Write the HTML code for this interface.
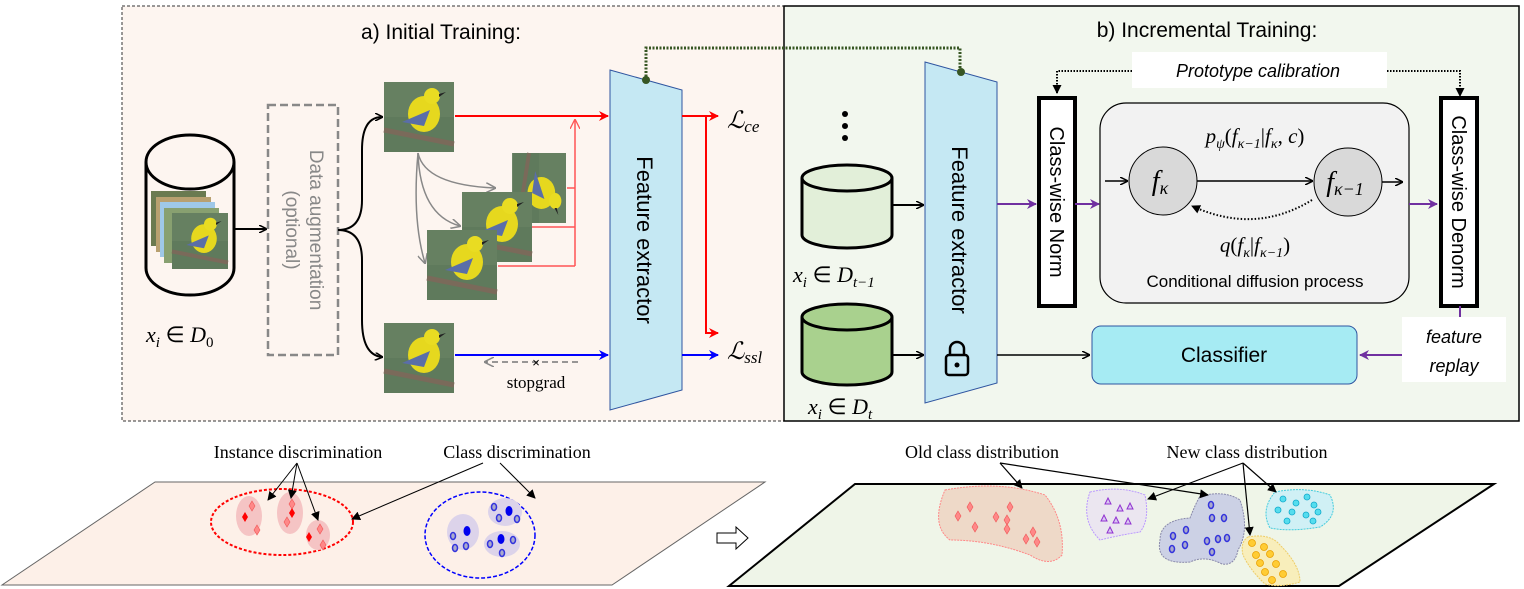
<!DOCTYPE html>
<html><head><meta charset="utf-8"><style>
body{margin:0;background:#fff}
svg{display:block}
text{font-family:"Liberation Sans",sans-serif}
.serif{font-family:"Liberation Serif",serif}
</style></head><body>
<svg width="1524" height="589" viewBox="0 0 1524 589" xmlns="http://www.w3.org/2000/svg">
<defs>
<g id="bird">
<rect x="0" y="0" width="70" height="70" fill="#5f7a5c"/>
<rect x="0" y="0" width="70" height="35" fill="#6a8464" opacity="0.6"/>
<path d="M0 48 L70 62" stroke="#7a6a5a" stroke-width="5"/>
<ellipse cx="40" cy="32" rx="16" ry="18" fill="#e6d81e"/>
<circle cx="48" cy="14" r="8" fill="#e9dc22"/>
<path d="M18 40 L46 28 L40 44 Z" fill="#5a6ea8"/>
<path d="M55 12 L62 10 L55 15Z" fill="#222"/>
</g>
<marker id="ak" markerWidth="8" markerHeight="8" refX="7" refY="4" orient="auto" markerUnits="userSpaceOnUse"><path d="M0 0 L8 4 L0 8" fill="none" stroke="#000" stroke-width="1.5"/></marker>
<marker id="ar" markerWidth="10" markerHeight="10" refX="9" refY="5" orient="auto" markerUnits="userSpaceOnUse"><path d="M0 0 L10 5 L0 10 L3 5Z" fill="red"/></marker>
<marker id="arl" markerWidth="10" markerHeight="10" refX="9" refY="5" orient="auto" markerUnits="userSpaceOnUse"><path d="M0 0 L10 5 L0 10" fill="none" stroke="#f55" stroke-width="1.3"/></marker>
<marker id="ab" markerWidth="10" markerHeight="10" refX="9" refY="5" orient="auto" markerUnits="userSpaceOnUse"><path d="M0 0 L10 5 L0 10 L3 5Z" fill="blue"/></marker>
<marker id="ag" markerWidth="10" markerHeight="10" refX="9" refY="5" orient="auto" markerUnits="userSpaceOnUse"><path d="M0 0 L10 5 L0 10" fill="none" stroke="#888" stroke-width="1.5"/></marker>
<marker id="ap" markerWidth="10" markerHeight="10" refX="9" refY="5" orient="auto" markerUnits="userSpaceOnUse"><path d="M0 0 L10 5 L0 10 L3 5Z" fill="#7030a0"/></marker>
<marker id="akf" markerWidth="9" markerHeight="9" refX="8" refY="4.5" orient="auto" markerUnits="userSpaceOnUse"><path d="M0 0 L9 4.5 L0 9 Z" fill="#000"/></marker>
</defs>

<!-- panel a -->
<rect x="122" y="6" width="662" height="415" fill="#fdf5f0" stroke="#333" stroke-dasharray="3,2"/>
<text x="441" y="39" font-size="21" text-anchor="middle">a) Initial Training:</text>
<path d="M146 162 L146 268 A44 27 0 0 0 234 268 L234 162" fill="#fdf5f0" stroke="#000" stroke-width="3"/>
<ellipse cx="190" cy="162" rx="44" ry="27" fill="#fdf5f0" stroke="#000" stroke-width="3"/>
<rect x="151" y="191" width="55" height="55" fill="#6a7a50"/>
<rect x="156" y="197" width="55" height="55" fill="#b8a070"/>
<rect x="160" y="202" width="55" height="55" fill="#9fc8e8"/>
<rect x="164" y="208" width="55" height="55" fill="#88a070"/>
<use href="#bird" transform="translate(172,213) scale(0.8)"/>
<text x="146" y="342" font-size="22" class="serif" font-style="italic">x<tspan font-size="15" dy="5">i</tspan><tspan dy="-5" font-style="normal"> ∈ </tspan>D<tspan font-size="15" dy="5" font-style="normal">0</tspan></text>
<line x1="234" y1="229" x2="266" y2="229" stroke="#000" stroke-width="2" marker-end="url(#ak)"/>
<rect x="268" y="105" width="70" height="250" fill="none" stroke="#888" stroke-width="2.5" stroke-dasharray="8,4"/>
<text transform="translate(310,230) rotate(90)" font-size="19" fill="#888" text-anchor="middle">Data augmentation</text>
<text transform="translate(286,230) rotate(90)" font-size="19" fill="#888" text-anchor="middle">(optional)</text>
<path d="M338 230 Q362 230 362 200 L362 150 Q362 117 382 117" fill="none" stroke="#000" stroke-width="2" marker-end="url(#ak)"/>
<path d="M338 230 Q362 230 362 260 L362 320 Q362 355 382 357" fill="none" stroke="#000" stroke-width="2" marker-end="url(#ak)"/>
<use href="#bird" transform="translate(384,82)"/>
<use href="#bird" transform="translate(384,323)"/>
<path d="M418 153 Q425 185 495 188" fill="none" stroke="#888" stroke-width="1.5" marker-end="url(#ag)"/>
<path d="M418 153 Q420 215 460 226" fill="none" stroke="#888" stroke-width="1.5" marker-end="url(#ag)"/>
<path d="M418 153 Q412 220 425 263" fill="none" stroke="#888" stroke-width="1.5" marker-end="url(#ag)"/>
<g transform="translate(496,153)"><use href="#bird" transform="rotate(90 35 35) scale(1,0.77)"/></g>
<use href="#bird" transform="translate(462,192)"/>
<use href="#bird" transform="translate(427,230)"/>
<line x1="567" y1="188" x2="575" y2="188" stroke="#f55" stroke-width="1.5"/>
<line x1="532" y1="227" x2="575" y2="227" stroke="#f55" stroke-width="1.5"/>
<line x1="498" y1="266" x2="575" y2="266" stroke="#f55" stroke-width="1.5"/>
<line x1="575" y1="266" x2="575" y2="120" stroke="#f55" stroke-width="1.5" marker-end="url(#arl)"/>
<line x1="455" y1="116" x2="608" y2="116" stroke="red" stroke-width="2" marker-end="url(#ar)"/>
<line x1="455" y1="355" x2="608" y2="355" stroke="blue" stroke-width="2" marker-end="url(#ab)"/>
<line x1="578" y1="362" x2="485" y2="362" stroke="#777" stroke-width="1.5" stroke-dasharray="6,4" marker-end="url(#ag)"/>
<text x="536" y="367" font-size="13" text-anchor="middle">×</text>
<text x="536" y="388" font-size="17" class="serif" text-anchor="middle">stopgrad</text>
<path d="M610 70 L682 90 L682 390 L610 410 Z" fill="#c5e8f3" stroke="#2f55a0" stroke-width="1"/>
<text transform="translate(637,240) rotate(90)" font-size="22" text-anchor="middle">Feature extractor</text>
<line x1="682" y1="116" x2="718" y2="116" stroke="red" stroke-width="2" marker-end="url(#ar)"/>
<path d="M706 116 L706 333 L718 333" fill="none" stroke="red" stroke-width="2" marker-end="url(#ar)"/>
<line x1="682" y1="355" x2="718" y2="355" stroke="blue" stroke-width="2" marker-end="url(#ab)"/>
<text x="727" y="128" font-size="24" class="serif" font-style="italic">ℒ<tspan font-size="17" dy="4">ce</tspan></text>
<text x="727" y="359" font-size="24" class="serif" font-style="italic">ℒ<tspan font-size="17" dy="4">ssl</tspan></text>

<!-- panel b -->
<rect x="784" y="6" width="735" height="415" fill="#f2f7ee" stroke="#000" stroke-width="1.5"/>
<path d="M646 80 L646 48 L960 48 L960 72" fill="none" stroke="#375623" stroke-width="3" stroke-dasharray="2,1.5"/>
<circle cx="646" cy="80" r="4" fill="#375623"/>
<text x="1207" y="37" font-size="21" text-anchor="middle">b) Incremental Training:</text>
<circle cx="845" cy="114" r="3" fill="#000"/><circle cx="845" cy="126" r="3" fill="#000"/><circle cx="845" cy="138" r="3" fill="#000"/>
<path d="M802 178 L802 235 A45 13 0 0 0 892 235 L892 178" fill="#e2efd9" stroke="#000" stroke-width="3"/>
<ellipse cx="847" cy="178" rx="45" ry="13" fill="#e2efd9" stroke="#000" stroke-width="3"/>
<path d="M802 317 L802 372 A45 13 0 0 0 892 372 L892 317" fill="#a9d18e" stroke="#000" stroke-width="3"/>
<ellipse cx="847" cy="317" rx="45" ry="13" fill="#a9d18e" stroke="#000" stroke-width="3"/>
<text x="793" y="282" font-size="22" class="serif" font-style="italic">x<tspan font-size="15" dy="5">i</tspan><tspan dy="-5" font-style="normal"> ∈ </tspan>D<tspan font-size="15" dy="5">t−1</tspan></text>
<text x="808" y="414" font-size="22" class="serif" font-style="italic">x<tspan font-size="15" dy="5">i</tspan><tspan dy="-5" font-style="normal"> ∈ </tspan>D<tspan font-size="15" dy="5">t</tspan></text>
<line x1="892" y1="205" x2="923" y2="205" stroke="#000" stroke-width="2" marker-end="url(#ak)"/>
<line x1="892" y1="355" x2="923" y2="355" stroke="#000" stroke-width="2" marker-end="url(#ak)"/>
<path d="M925 62 L997 82 L997 383 L925 403 Z" fill="#c5e8f3" stroke="#2f55a0" stroke-width="1"/>
<text transform="translate(952,230) rotate(90)" font-size="22" text-anchor="middle">Feature extractor</text>
<circle cx="961" cy="72" r="4" fill="#375623"/>
<rect x="946" y="355" width="22" height="20" rx="3" fill="none" stroke="#000" stroke-width="2.5"/>
<path d="M950 355 L950 349 A7 7 0 0 1 964 349 L964 355" fill="none" stroke="#000" stroke-width="2.5"/>
<circle cx="957" cy="365" r="2.5" fill="#000"/>
<line x1="997" y1="204" x2="1036" y2="204" stroke="#7030a0" stroke-width="2" marker-end="url(#ap)"/>
<rect x="1039" y="98" width="36" height="208" fill="#fff" stroke="#000" stroke-width="4"/>
<text transform="translate(1050,202) rotate(90)" font-size="20" text-anchor="middle">Class-wise Norm</text>
<line x1="1075" y1="204" x2="1099" y2="204" stroke="#7030a0" stroke-width="2" marker-end="url(#ap)"/>
<rect x="1100" y="103" width="309" height="200" rx="26" fill="#f2f2f2" stroke="#000" stroke-width="1.2"/>
<text x="1255" y="143" font-size="21" class="serif" font-style="italic" text-anchor="middle">p<tspan font-size="14" dy="5">ψ</tspan><tspan dy="-5" font-style="normal">(</tspan>f<tspan font-size="14" dy="5">κ−1</tspan><tspan dy="-5" font-style="normal">|</tspan>f<tspan font-size="14" dy="5">κ</tspan><tspan dy="-5" font-style="normal">, </tspan>c<tspan font-style="normal">)</tspan></text>
<circle cx="1163" cy="181" r="34" fill="#d9d9d9" stroke="#000" stroke-width="1"/>
<circle cx="1348" cy="182" r="34" fill="#d9d9d9" stroke="#000" stroke-width="1"/>
<text x="1160" y="190" font-size="28" class="serif" font-style="italic" text-anchor="middle">f<tspan font-size="18" dy="4">κ</tspan></text>
<text x="1345" y="191" font-size="28" class="serif" font-style="italic" text-anchor="middle">f<tspan font-size="18" dy="4">κ−1</tspan></text>
<line x1="1105" y1="181" x2="1127" y2="181" stroke="#000" stroke-width="1.5" marker-end="url(#ak)"/>
<line x1="1197" y1="181" x2="1312" y2="181" stroke="#000" stroke-width="1.5" marker-end="url(#ak)"/>
<line x1="1382" y1="182" x2="1402" y2="182" stroke="#000" stroke-width="1.5" marker-end="url(#ak)"/>
<path d="M1312 200 Q1255 235 1192 206" fill="none" stroke="#000" stroke-width="2" stroke-dasharray="1.5,2" marker-end="url(#akf)"/>
<text x="1255" y="252" font-size="21" class="serif" font-style="italic" text-anchor="middle">q<tspan font-style="normal">(</tspan>f<tspan font-size="14" dy="5">κ</tspan><tspan dy="-5" font-style="normal">|</tspan>f<tspan font-size="14" dy="5">κ−1</tspan><tspan dy="-5" font-style="normal">)</tspan></text>
<text x="1255" y="287" font-size="17" text-anchor="middle">Conditional diffusion process</text>
<path d="M1132 71 L1057 71 L1057 93" fill="none" stroke="#000" stroke-width="2" stroke-dasharray="1.5,1.5" marker-end="url(#akf)"/>
<path d="M1387 71 L1460 71 L1460 96" fill="none" stroke="#000" stroke-width="2" stroke-dasharray="1.5,1.5" marker-end="url(#akf)"/>
<rect x="1132" y="52" width="255" height="36" fill="#fff"/>
<text x="1258" y="77" font-size="18" font-style="italic" text-anchor="middle">Prototype calibration</text>
<line x1="1409" y1="204" x2="1437" y2="204" stroke="#7030a0" stroke-width="2" marker-end="url(#ap)"/>
<rect x="1441" y="98" width="36" height="208" fill="#fff" stroke="#000" stroke-width="4"/>
<text transform="translate(1452,202) rotate(90)" font-size="20" text-anchor="middle">Class-wise Denorm</text>
<line x1="1460" y1="306" x2="1460" y2="318" stroke="#7030a0" stroke-width="2"/>
<line x1="997" y1="355" x2="1089" y2="355" stroke="#000" stroke-width="1.5" marker-end="url(#ak)"/>
<rect x="1092" y="326" width="265" height="58" rx="9" fill="#a6ebf3" stroke="#2f55a0" stroke-width="1"/>
<text x="1224" y="362" font-size="21" text-anchor="middle">Classifier</text>
<line x1="1402" y1="355" x2="1360" y2="355" stroke="#7030a0" stroke-width="2" marker-end="url(#ap)"/>
<rect x="1402" y="317" width="104" height="65" fill="#fff"/>
<text x="1454" y="343" font-size="18" font-style="italic" text-anchor="middle">feature</text>
<text x="1454" y="372" font-size="18" font-style="italic" text-anchor="middle">replay</text>

<!-- bottom left plane -->
<path d="M155 482 L765 482 L612 585 L2 585 Z" fill="#fdf0e8" stroke="#666" stroke-width="1"/>
<text x="298" y="458" font-size="18" class="serif" text-anchor="middle">Instance discrimination</text>
<text x="517" y="458" font-size="18" class="serif" text-anchor="middle">Class discrimination</text>
<ellipse cx="282" cy="522" rx="71" ry="33" fill="none" stroke="red" stroke-width="2" stroke-dasharray="3,2"/>
<ellipse cx="249" cy="516" rx="13" ry="20" fill="#f5c4c4"/>
<ellipse cx="290" cy="513" rx="13" ry="21" fill="#f5c4c4"/>
<ellipse cx="318" cy="535" rx="12" ry="15" fill="#f5c4c4"/>
<g fill="#f88" stroke="#e55" stroke-width="0.6">
<path d="M252 501 l3 5 l-3 5 l-3 -5z"/><path d="M257 525 l3 5 l-3 5 l-3 -5z"/><path d="M292 499 l3 5 l-3 5 l-3 -5z"/><path d="M287 517 l3 5 l-3 5 l-3 -5z"/><path d="M320 524 l3 5 l-3 5 l-3 -5z"/><path d="M323 540 l3 5 l-3 5 l-3 -5z"/>
</g>
<g fill="red"><path d="M245 512 l3 5 l-3 5 l-3 -5z"/><path d="M292 508 l3 5 l-3 5 l-3 -5z"/><path d="M309 532 l3 5 l-3 5 l-3 -5z"/></g>
<ellipse cx="480" cy="535" rx="55" ry="43" fill="none" stroke="blue" stroke-width="1.5" stroke-dasharray="4,2"/>
<ellipse cx="505" cy="512" rx="17" ry="14" fill="#dcd3ea"/>
<ellipse cx="463" cy="532" rx="16" ry="18" fill="#dcd3ea"/>
<ellipse cx="502" cy="544" rx="18" ry="13" fill="#dcd3ea"/>
<g fill="#aac" stroke="#33d" stroke-width="1.5">
<ellipse cx="494" cy="507" rx="2.5" ry="3.5"/><ellipse cx="499" cy="518" rx="2.5" ry="3.5"/><ellipse cx="517" cy="519" rx="2.5" ry="3.5"/><ellipse cx="453" cy="536" rx="2.5" ry="3.5"/><ellipse cx="455" cy="548" rx="2.5" ry="3.5"/><ellipse cx="466" cy="546" rx="2.5" ry="3.5"/><ellipse cx="490" cy="544" rx="2.5" ry="3.5"/><ellipse cx="513" cy="540" rx="2.5" ry="3.5"/><ellipse cx="502" cy="553" rx="2.5" ry="3.5"/>
</g>
<g fill="#00e"><ellipse cx="509" cy="511" rx="3.5" ry="5"/><ellipse cx="467" cy="531" rx="3.5" ry="5"/><ellipse cx="501" cy="539" rx="3.5" ry="5"/></g>
<g stroke="#000" stroke-width="1" fill="none">
<line x1="297" y1="463" x2="268" y2="500" marker-end="url(#akf)"/><line x1="297" y1="463" x2="291" y2="498" marker-end="url(#akf)"/><line x1="297" y1="463" x2="318" y2="520" marker-end="url(#akf)"/>
<line x1="483" y1="463" x2="352" y2="519" marker-end="url(#akf)"/><line x1="500" y1="463" x2="535" y2="498" marker-end="url(#akf)"/>
</g>
<path d="M717 533 L736 533 L736 527 L748 538 L736 549 L736 543 L717 543 Z" fill="#fff" stroke="#000" stroke-width="1"/>

<!-- bottom right plane -->
<path d="M855 484 L1494 484 L1339 586 L729 586 Z" fill="#eff5e8" stroke="#000" stroke-width="2"/>
<text x="982" y="458" font-size="18" class="serif" text-anchor="middle">Old class distribution</text>
<text x="1247" y="458" font-size="18" class="serif" text-anchor="middle">New class distribution</text>
<path d="M945 490 Q1000 480 1045 495 Q1065 520 1062 555 Q1050 568 1030 555 Q990 540 950 540 Q930 525 945 490Z" fill="#eed9c8" stroke="#f88" stroke-width="1" stroke-dasharray="2,1"/>
<path d="M1090 492 Q1120 485 1145 495 Q1150 520 1140 532 Q1120 535 1100 540 Q1080 520 1090 492Z" fill="#ebe6f0" stroke="#b9f" stroke-width="1" stroke-dasharray="2,1"/>
<path d="M1200 496 Q1225 490 1240 500 Q1250 530 1238 550 Q1235 566 1222 564 Q1205 555 1190 562 Q1155 565 1160 540 Q1160 520 1190 518 Q1195 505 1200 496Z" fill="#ccd1e5" stroke="#88a" stroke-width="1" stroke-dasharray="2,1"/>
<path d="M1275 492 Q1305 486 1330 495 Q1340 515 1320 527 Q1290 532 1270 528 Q1260 510 1275 492Z" fill="#d0f0f5" stroke="#4cd" stroke-width="1" stroke-dasharray="2,1"/>
<path d="M1248 537 Q1270 533 1280 545 Q1300 565 1300 582 Q1280 588 1265 584 Q1250 570 1243 555 Q1240 542 1248 537Z" fill="#f8eebb" stroke="#ec6" stroke-width="1" stroke-dasharray="2,1"/>
<g fill="#f88" stroke="#e55" stroke-width="0.6">
<path d="M970 502 l3 5 l-3 5 l-3 -5z"/><path d="M1010 502 l3 5 l-3 5 l-3 -5z"/><path d="M958 511 l3 5 l-3 5 l-3 -5z"/><path d="M996 512 l3 5 l-3 5 l-3 -5z"/><path d="M1007 515 l3 5 l-3 5 l-3 -5z"/><path d="M1007 524 l3 5 l-3 5 l-3 -5z"/><path d="M975 522 l3 5 l-3 5 l-3 -5z"/><path d="M1033 527 l3 5 l-3 5 l-3 -5z"/><path d="M1026 534 l3 5 l-3 5 l-3 -5z"/><path d="M1037 537 l3 5 l-3 5 l-3 -5z"/>
</g>
<g fill="#d9c8f2" stroke="#9030d0" stroke-width="1">
<path d="M1108 498 l3 6 h-6z"/><path d="M1120 505 l3 6 h-6z"/><path d="M1130 503 l3 6 h-6z"/><path d="M1104 515 l3 6 h-6z"/><path d="M1116 517 l3 6 h-6z"/><path d="M1128 518 l3 6 h-6z"/><path d="M1110 527 l3 6 h-6z"/>
</g>
<g fill="#aac" stroke="#33d" stroke-width="1.5">
<ellipse cx="1211" cy="505" rx="2.5" ry="3.5"/><ellipse cx="1212" cy="518" rx="2.5" ry="3.5"/><ellipse cx="1224" cy="518" rx="2.5" ry="3.5"/><ellipse cx="1173" cy="536" rx="2.5" ry="3.5"/><ellipse cx="1186" cy="530" rx="2.5" ry="3.5"/><ellipse cx="1172" cy="549" rx="2.5" ry="3.5"/><ellipse cx="1185" cy="545" rx="2.5" ry="3.5"/><ellipse cx="1207" cy="541" rx="2.5" ry="3.5"/><ellipse cx="1218" cy="539" rx="2.5" ry="3.5"/><ellipse cx="1227" cy="538" rx="2.5" ry="3.5"/><ellipse cx="1212" cy="552" rx="2.5" ry="3.5"/>
</g>
<g fill="#5de" stroke="#1ac" stroke-width="0.8">
<circle cx="1283" cy="499" r="3"/><circle cx="1307" cy="497" r="3"/><circle cx="1296" cy="503" r="3"/><circle cx="1314" cy="505" r="3"/><circle cx="1278" cy="510" r="3"/><circle cx="1292" cy="512" r="3"/><circle cx="1306" cy="515" r="3"/><circle cx="1318" cy="512" r="3"/><circle cx="1287" cy="521" r="3"/><circle cx="1313" cy="521" r="3"/>
</g>
<g fill="#fc3" stroke="#e9a000" stroke-width="0.8">
<circle cx="1252" cy="543" r="3.5"/><circle cx="1264" cy="547" r="3.5"/><circle cx="1256" cy="555" r="3.5"/><circle cx="1270" cy="554" r="3.5"/><circle cx="1260" cy="563" r="3.5"/><circle cx="1276" cy="564" r="3.5"/><circle cx="1265" cy="572" r="3.5"/><circle cx="1283" cy="574" r="3.5"/><circle cx="1272" cy="580" r="3.5"/>
</g>
<g stroke="#000" stroke-width="1.2" fill="none">
<line x1="1000" y1="463" x2="1022" y2="488" marker-end="url(#akf)"/><line x1="1000" y1="463" x2="1208" y2="495" marker-end="url(#akf)"/>
<line x1="1243" y1="463" x2="1148" y2="499" marker-end="url(#akf)"/><line x1="1243" y1="463" x2="1250" y2="535" marker-end="url(#akf)"/><line x1="1243" y1="463" x2="1276" y2="492" marker-end="url(#akf)"/>
</g>
</svg>
</body></html>
